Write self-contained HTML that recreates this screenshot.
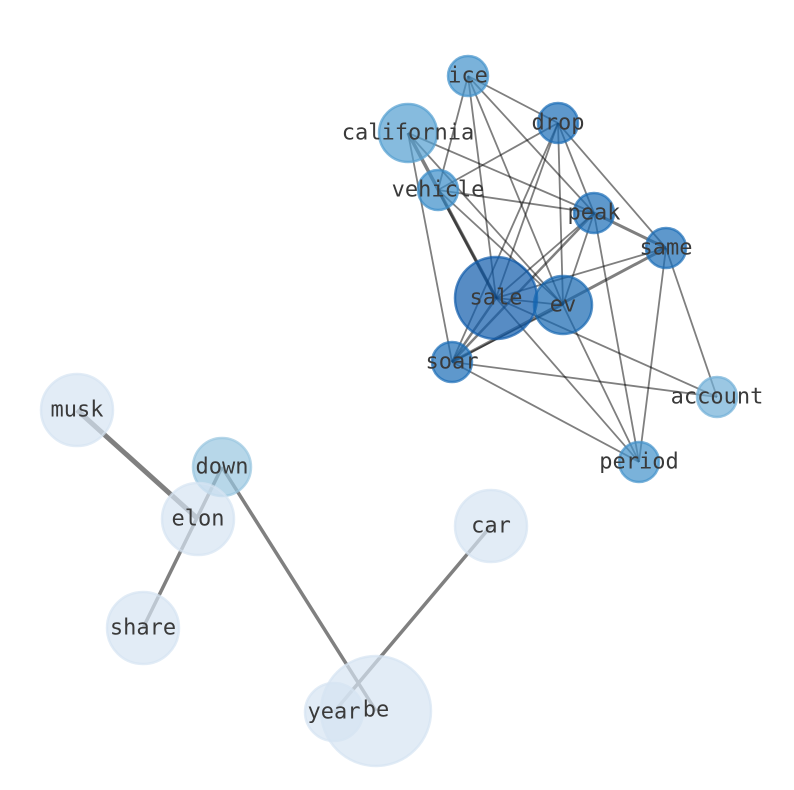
<!DOCTYPE html>
<html><head><meta charset="utf-8"><style>
html,body{margin:0;padding:0;background:#fff;}
svg{display:block;}
text{font-family:"DejaVu Sans Mono","Liberation Mono",monospace;font-size:22px;fill:#3a3a3a;text-anchor:middle;dominant-baseline:central;}
</style></head><body>
<svg width="794" height="790" viewBox="0 0 794 790" xmlns="http://www.w3.org/2000/svg">
<g stroke="rgb(0,0,0)" stroke-opacity="0.5" stroke-width="1.8" fill="none">
<line x1="468" y1="76" x2="558" y2="123"/>
<line x1="468" y1="76" x2="438" y2="190"/>
<line x1="468" y1="76" x2="496" y2="298"/>
<line x1="468" y1="76" x2="563" y2="305"/>
<line x1="468" y1="76" x2="594" y2="213"/>
<line x1="408" y1="133" x2="496" y2="298" stroke-width="3.5"/>
<line x1="408" y1="133" x2="594" y2="213"/>
<line x1="408" y1="133" x2="452" y2="362"/>
<line x1="408" y1="133" x2="563" y2="305"/>
<line x1="558" y1="123" x2="438" y2="190"/>
<line x1="558" y1="123" x2="496" y2="298"/>
<line x1="558" y1="123" x2="452" y2="362"/>
<line x1="558" y1="123" x2="563" y2="305"/>
<line x1="558" y1="123" x2="594" y2="213"/>
<line x1="558" y1="123" x2="666" y2="248"/>
<line x1="438" y1="190" x2="594" y2="213"/>
<line x1="438" y1="190" x2="496" y2="298" stroke-width="2.5"/>
<line x1="438" y1="190" x2="563" y2="305"/>
<line x1="594" y1="213" x2="666" y2="248" stroke-width="3"/>
<line x1="594" y1="213" x2="496" y2="298"/>
<line x1="594" y1="213" x2="452" y2="362" stroke-width="2.5"/>
<line x1="594" y1="213" x2="563" y2="305"/>
<line x1="594" y1="213" x2="639" y2="462"/>
<line x1="666" y1="248" x2="496" y2="298"/>
<line x1="666" y1="248" x2="452" y2="362" stroke-width="3"/>
<line x1="666" y1="248" x2="639" y2="462"/>
<line x1="666" y1="248" x2="717" y2="397"/>
<line x1="496" y1="298" x2="563" y2="305"/>
<line x1="496" y1="298" x2="452" y2="362" stroke-width="2.5"/>
<line x1="496" y1="298" x2="639" y2="462"/>
<line x1="496" y1="298" x2="717" y2="397"/>
<line x1="563" y1="305" x2="639" y2="462"/>
<line x1="563" y1="305" x2="452" y2="362"/>
<line x1="452" y1="362" x2="717" y2="397"/>
<line x1="452" y1="362" x2="639" y2="462"/>
</g>
<g stroke="#808080" fill="none">
<line x1="77" y1="410" x2="198" y2="519" stroke-width="5"/>
<line x1="143" y1="628" x2="222" y2="467" stroke-width="3.5"/>
<line x1="222" y1="467" x2="376" y2="711" stroke-width="3.5"/>
<line x1="491" y1="526" x2="334" y2="712" stroke-width="3.5"/>
</g>
<g fill-opacity="0.7" stroke-opacity="0.7" stroke-width="2.5">
<circle cx="468" cy="76" r="20" fill="rgb(65,145,202)" stroke="rgb(65,145,202)"/>
<circle cx="558" cy="123" r="20" fill="rgb(26,108,182)" stroke="rgb(26,108,182)"/>
<circle cx="408" cy="133" r="29" fill="rgb(82,158,208)" stroke="rgb(82,158,208)"/>
<circle cx="438" cy="190" r="20" fill="rgb(59,141,201)" stroke="rgb(59,141,201)"/>
<circle cx="594" cy="213" r="20" fill="rgb(26,108,182)" stroke="rgb(26,108,182)"/>
<circle cx="666" cy="248" r="20" fill="rgb(26,108,182)" stroke="rgb(26,108,182)"/>
<circle cx="496" cy="298" r="41" fill="rgb(16,91,171)" stroke="rgb(16,91,171)"/>
<circle cx="563" cy="305" r="29" fill="rgb(22,102,177)" stroke="rgb(22,102,177)"/>
<circle cx="452" cy="362" r="20" fill="rgb(26,108,182)" stroke="rgb(26,108,182)"/>
<circle cx="717" cy="397" r="20" fill="rgb(112,175,215)" stroke="rgb(112,175,215)"/>
<circle cx="639" cy="462" r="20" fill="rgb(65,145,202)" stroke="rgb(65,145,202)"/>
<circle cx="77" cy="410" r="36" fill="rgb(214,228,242)" stroke="rgb(214,228,242)"/>
<circle cx="222" cy="467" r="29" fill="rgb(152,198,224)" stroke="rgb(152,198,224)"/>
<circle cx="198" cy="519" r="36" fill="rgb(214,228,242)" stroke="rgb(214,228,242)"/>
<circle cx="491" cy="526" r="36" fill="rgb(214,228,242)" stroke="rgb(214,228,242)"/>
<circle cx="143" cy="628" r="36" fill="rgb(214,228,242)" stroke="rgb(214,228,242)"/>
<circle cx="334" cy="712" r="29" fill="rgb(214,228,242)" stroke="rgb(214,228,242)"/>
<circle cx="376" cy="711" r="55" fill="rgb(214,228,242)" stroke="rgb(214,228,242)"/>
</g>
<g>
<text x="468" y="76">ice</text>
<text x="558" y="123">drop</text>
<text x="408" y="133">california</text>
<text x="438" y="190">vehicle</text>
<text x="594" y="213">peak</text>
<text x="666" y="248">same</text>
<text x="496" y="298">sale</text>
<text x="563" y="305">ev</text>
<text x="452" y="362">soar</text>
<text x="717" y="397">account</text>
<text x="639" y="462">period</text>
<text x="77" y="410">musk</text>
<text x="222" y="467">down</text>
<text x="198" y="519">elon</text>
<text x="491" y="526">car</text>
<text x="143" y="628">share</text>
<text x="334" y="712">year</text>
<text x="376" y="710">be</text>
</g>
</svg>
</body></html>
